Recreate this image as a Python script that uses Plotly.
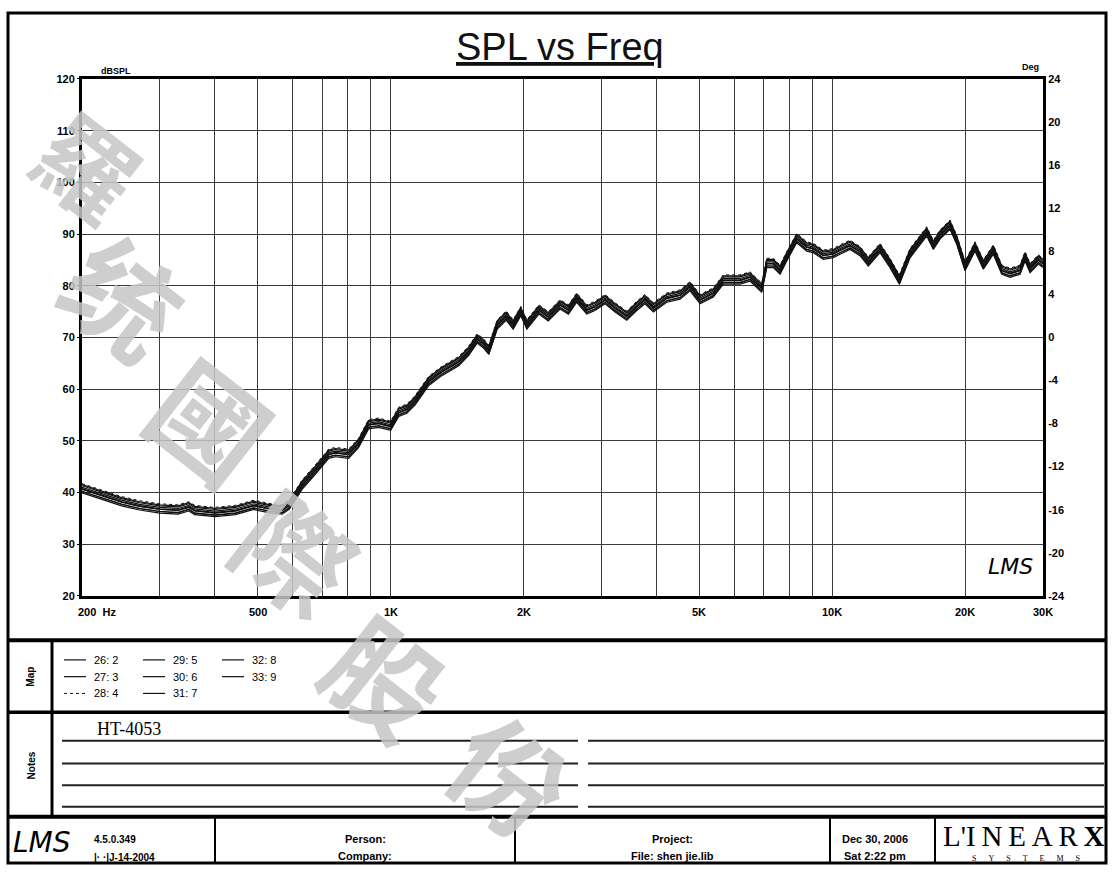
import math
import plotly.graph_objects as go

# ---------------- data ----------------
FREQ_HZ = [200, 222, 246, 270, 300, 330, 349, 360, 400, 445, 470, 490, 529, 568, 590,
           630, 675, 724, 749, 803, 845, 891, 939, 1000, 1043, 1088, 1135, 1220, 1306,
           1426, 1502, 1570, 1620, 1668, 1743, 1826, 1894, 1971, 2034, 2166, 2274, 2418,
           2526, 2638, 2780, 2902, 3058, 3222, 3424, 3608, 3766, 3934, 4218, 4522, 4764,
           5018, 5378, 5666, 6180, 6512, 6922, 7104, 7354, 7616, 7886, 8306, 8754, 9058,
           9544, 10054, 10412, 10968, 11556, 12066, 12826, 13512, 14186, 14998, 16360,
           16936, 17536, 18476, 19132, 19980, 21044, 21980, 23158, 24200, 25262, 26618,
           27322, 28046, 29282, 30000]
SPL_DB = [40.9, 39.6, 38.4, 37.6, 37.0, 36.8, 37.4, 36.7, 36.3, 36.7, 37.2, 37.7, 37.1, 36.8, 37.8,
          41.6, 44.5, 47.6, 47.9, 47.6, 49.6, 53.3, 53.6, 53.0, 55.7, 56.3, 57.9, 61.7, 63.6,
          65.5, 67.5, 69.9, 69.0, 67.7, 72.6, 74.3, 72.6, 75.2, 72.6, 75.5, 74.2, 76.5,
          75.5, 77.8, 75.5, 76.2, 77.5, 75.9, 74.3, 76.2, 77.5, 75.9, 77.8, 78.4, 80.0,
          77.5, 78.8, 81.3, 81.3, 81.9, 79.7, 84.5, 84.5, 83.2, 85.8, 89.3, 87.7, 87.4,
          86.1, 86.4, 87.1, 88.0, 86.8, 84.8, 87.4, 84.5, 81.3, 86.4, 90.6,
          88.0, 90.0, 91.9, 89.0, 83.9, 87.7, 84.2, 87.1, 83.2, 82.6, 83.2,
          85.8, 83.5, 85.2, 84.5]
SERIES_NAMES = ["26: 2", "27: 3", "28: 4", "29: 5", "30: 6", "31: 7", "32: 8", "33: 9"]
SERIES_OFFSET_DB = [0.4, -0.3, 0.8, -0.7, 0.1, 0.6, -1.0, -0.2]

X_TICKS = [200, 300, 400, 500, 600, 700, 800, 900, 1000, 2000, 3000, 4000, 5000,
           6000, 7000, 8000, 9000, 10000, 20000, 30000]
X_LABELED = {500: "500", 1000: "1K", 2000: "2K", 5000: "5K", 10000: "10K",
             20000: "20K", 30000: "30K"}
Y_TICKS = [20, 30, 40, 50, 60, 70, 80, 90, 100, 110, 120]
DEG_TICKS = [-24, -20, -16, -12, -8, -4, 0, 4, 8, 12, 16, 20, 24]

NOTES_TEXT = "HT-4053"
FOOTER = {
    "version": "4.5.0.349", "build": "|· ·|J-14-2004",
    "person": "Person:", "company": "Company:",
    "project": "Project:", "file": "File: shen jie.lib",
    "date": "Dec 30, 2006", "time": "Sat 2:22 pm",
}
WATERMARK = ["羅", "统", "國", "際", "股", "份"]

# ---------------- helpers / layout constants ----------------
W, H = 1112, 874
PL, PR, PT, PB = 82, 1043, 74, 598   # plot area in pixels


def px(x):
    return x / W


def py(y):
    return 1 - y / H


FONT = "Liberation Sans, Arial, sans-serif"
fig = go.Figure()

widths = [1.2, 1.2, 1.0, 1.6, 1.2, 1.2, 1.2, 1.6]
dashes = ["solid", "solid", "dot", "solid", "solid", "solid", "solid", "solid"]
for i, name in enumerate(SERIES_NAMES):
    fig.add_trace(go.Scatter(
        x=FREQ_HZ, y=[v + SERIES_OFFSET_DB[i] for v in SPL_DB],
        mode="lines", name=name, showlegend=False,
        line=dict(color="#111111", width=widths[i], dash=dashes[i]),
        hoverinfo="skip"))

# empty phase trace so that the right-hand "Deg" axis is drawn
fig.add_trace(go.Scatter(x=[], y=[], yaxis="y2", mode="lines",
                         showlegend=False, hoverinfo="skip"))

fig.update_layout(
    width=W, height=H, autosize=False,
    margin=dict(l=0, r=0, t=0, b=0),
    paper_bgcolor="white", plot_bgcolor="white",
    showlegend=False,
    xaxis=dict(
        type="log", range=[math.log10(200), math.log10(30000)],
        domain=[px(PL), px(PR)],
        tickvals=X_TICKS, ticktext=["" for _ in X_TICKS],
        showgrid=True, gridcolor="#3a3a3a", gridwidth=1.4,
        showline=True, linecolor="black", linewidth=3, mirror=True,
        ticks="", zeroline=False, fixedrange=True,
    ),
    yaxis=dict(
        range=[20, 120], domain=[py(PB), py(PT)],
        tickvals=Y_TICKS, ticktext=[str(v) for v in Y_TICKS],
        tickfont=dict(family=FONT, size=11, color="black", weight="bold"),
        showgrid=True, gridcolor="#3a3a3a", gridwidth=1.4,
        showline=True, linecolor="black", linewidth=3, mirror=True,
        ticks="outside", ticklen=2, tickcolor="black", zeroline=False,
        fixedrange=True,
    ),
    yaxis2=dict(
        range=[-24, 24], overlaying="y", side="right", anchor="x",
        tickvals=DEG_TICKS, ticktext=[str(v) for v in DEG_TICKS],
        tickfont=dict(family=FONT, size=11, color="black", weight="bold"),
        showgrid=False, zeroline=False, ticks="outside", ticklen=2,
        tickcolor="black", fixedrange=True, showline=False,
    ),
)

ann = []
shapes = []


def text(x, y, t, size=11, bold=True, xanchor="center", yanchor="middle",
         family=FONT, color="black", angle=0, italic=False):
    ann.append(dict(
        x=px(x), y=py(y), xref="paper", yref="paper", text=t, showarrow=False,
        xanchor=xanchor, yanchor=yanchor, textangle=angle,
        font=dict(family=family, size=size, color=color,
                  weight="bold" if bold else "normal",
                  style="italic" if italic else "normal")))


def line(x0, y0, x1, y1, w=2, color="black", dash="solid"):
    shapes.append(dict(type="line", xref="paper", yref="paper",
                       x0=px(x0), y0=py(y0), x1=px(x1), y1=py(y1),
                       line=dict(color=color, width=w, dash=dash)))


# x tick labels
for f, lab in X_LABELED.items():
    ann.append(dict(x=math.log10(f), y=py(PB + 16), xref="x", yref="paper",
                    text=lab, showarrow=False, xanchor="center", yanchor="middle",
                    font=dict(family=FONT, size=11, color="black", weight="bold")))
text(PL - 6, PB + 16, "200  Hz", xanchor="left")

# axis titles and title
text(99, 66, "dBSPL", size=9, xanchor="left")
text(1041, 62, "Deg", size=9, xanchor="right")
text(560, 42, "<u>SPL vs Freq</u>", size=38, bold=False, color="#111111")
text(1010, 568, "LMS", size=22, bold=False, italic=True,
     family="DejaVu Sans, sans-serif")

# form frame
shapes.append(dict(type="rect", xref="paper", yref="paper",
                   x0=px(8), y0=py(7), x1=px(1106), y1=py(869),
                   line=dict(color="black", width=3)))
line(8, 643, 1106, 643, w=4)
line(8, 716, 1106, 716, w=3.5)
line(8, 822, 1106, 822, w=4)
line(52, 643, 52, 822, w=3)
for xv in [215, 515, 830, 935]:
    line(xv, 822, xv, 869, w=2)

# Map section
text(31, 680, "Map", size=10, angle=-90)
cols = [64, 143, 222]
rows = [663, 680, 697]
for i, name in enumerate(SERIES_NAMES):
    c, r = i // 3, i % 3
    x0 = cols[c]
    line(x0, rows[r], x0 + 22, rows[r], w=1.2 if dashes[i] == "solid" else 1.0,
         dash="dot" if dashes[i] == "dot" else "solid", color="#111")
    text(x0 + 28, rows[r], name, size=11, bold=False, xanchor="left")

# Notes section
text(31, 770, "Notes", size=10, angle=-90)
text(95, 733, NOTES_TEXT, size=18, bold=False, xanchor="left",
     family="Liberation Serif, Times New Roman, serif")
for yv in [745, 768, 790, 812]:
    line(62, yv, 578, yv, w=2, color="#222")
    line(588, yv, 1104, yv, w=2, color="#222")

# Footer
text(42, 848, "LMS", size=28, bold=False, italic=True,
     family="DejaVu Sans, sans-serif")
text(92, 845, FOOTER["version"], size=10, xanchor="left")
text(92, 863, FOOTER["build"], size=10, xanchor="left")
text(365, 845, FOOTER["person"], size=11)
text(365, 862, FOOTER["company"], size=11)
text(672, 845, FOOTER["project"], size=11)
text(672, 862, FOOTER["file"], size=11)
text(875, 845, FOOTER["date"], size=11)
text(875, 862, FOOTER["time"], size=11)
text(1024, 842, "L'I\u2009N\u2009E\u2009A\u2009R\u2009<b>X</b>", size=29, bold=False,
     family="Liberation Serif, serif")
sp = "\u2003\u2002"
text(1026, 864, sp.join("SYSTEMS"), size=8, bold=False,
     family="Liberation Serif, serif")

# watermark
wm_pos = [(90, 160), (126, 292), (213, 418), (298, 552), (388, 678), (512, 778)]
wm_size = [98, 112, 112, 112, 112, 112]
for ch, (xw, yw), s in zip(WATERMARK, wm_pos, wm_size):
    ann.append(dict(x=px(xw), y=py(yw), xref="paper", yref="paper", text=ch,
                    showarrow=False, textangle=38, opacity=0.85,
                    xanchor="center", yanchor="middle",
                    font=dict(family="Noto Sans CJK TC", size=s, color="#c6c6c6",
                              weight="bold")))

fig.update_layout(annotations=ann, shapes=shapes)

fig.write_html("out.html", config={"displayModeBar": False},
               post_script="document.body.style.margin='0px';")
